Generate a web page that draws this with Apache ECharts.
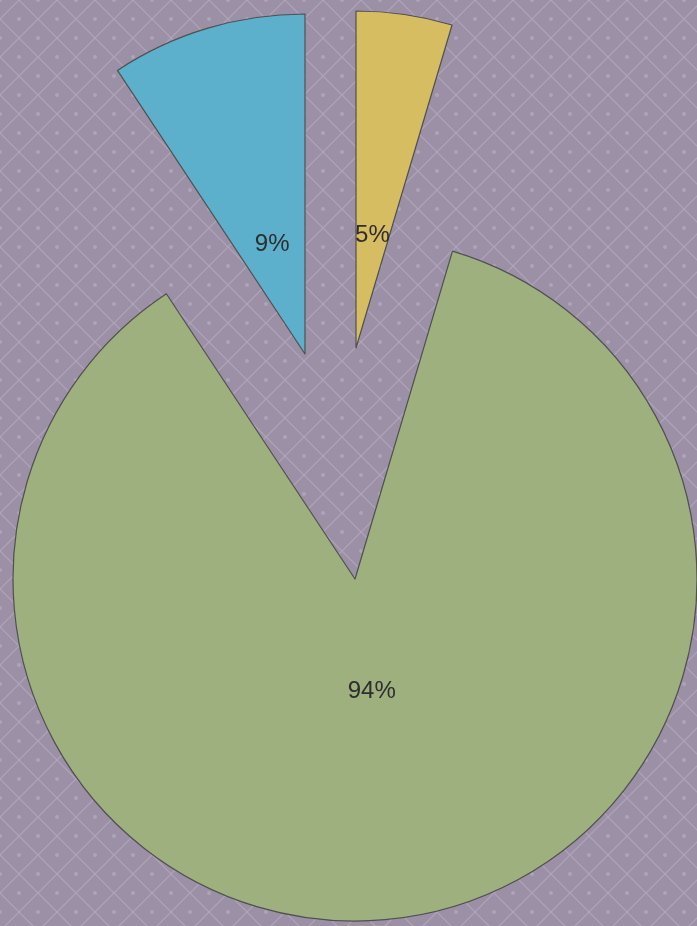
<!DOCTYPE html>
<html>
<head>
<meta charset="utf-8">
<style>
  html, body { margin: 0; padding: 0; }
  #chart { width: 697px; height: 926px; }
</style>
<script src="https://cdn.jsdelivr.net/npm/echarts@6/dist/echarts.min.js"></script>
</head>
<body>
<div id="chart"></div>
<script>
// slices clockwise from 12 o'clock
const names = ["A", "B", "C"];
const values = [4.6, 86.1, 9.3];
const labels = ["5%", "94%", "9%"];
const colors = ["#d6bd62", "#9db07e", "#5cb0cb"];
// each slice is pulled out to its own centre
const centers = [[356, 348], [355, 579], [305, 354]];
const radii = [337, 342, 340];

// crosshatch background tile
function makePattern() {
  const s = 38, h = 19;
  const c = document.createElement("canvas");
  c.width = s;
  c.height = s;
  const g = c.getContext("2d");
  g.fillStyle = "#9c90a6";
  g.fillRect(0, 0, s, s);
  g.strokeStyle = "#afa5b9";
  g.lineWidth = 1.1;
  g.beginPath();
  g.moveTo(h, 0); g.lineTo(0, h);
  g.moveTo(s, h); g.lineTo(h, s);
  g.moveTo(h, 0); g.lineTo(s, h);
  g.moveTo(0, h); g.lineTo(h, s);
  g.stroke();
  g.fillStyle = "#aea4b8";
  [[0, 0], [s, 0], [0, s], [s, s], [h, h]].forEach(p => {
    g.beginPath();
    g.arc(p[0], p[1], 2, 0, Math.PI * 2);
    g.fill();
  });
  return c;
}

const chart = echarts.init(document.getElementById("chart"));

const series = [];
values.forEach((v, k) => {
  const mkData = (showLabel, filled) =>
    values.map((val, i) => ({
      name: names[i],
      value: val,
      itemStyle: i === k && filled
        ? { color: colors[i], borderColor: "#505050", borderWidth: 1.2 }
        : { color: "transparent", borderWidth: 0 },
      label: { show: i === k && showLabel }
    }));
  // the slice itself
  series.push({
    type: "pie",
    center: centers[k],
    radius: [0, radii[k]],
    startAngle: 90,
    clockwise: true,
    silent: true,
    animation: false,
    label: { show: false },
    labelLine: { show: false },
    data: mkData(false, true)
  });
  // label placed at about a third of the radius
  series.push({
    type: "pie",
    center: centers[k],
    radius: [0, 222],
    startAngle: 90,
    clockwise: true,
    silent: true,
    animation: false,
    label: {
      position: "inside",
      formatter: p => labels[p.dataIndex],
      color: "#2e2e2e",
      fontFamily: "Liberation Sans",
      fontSize: 24
    },
    labelLine: { show: false },
    data: mkData(true, false)
  });
});

chart.setOption({
  backgroundColor: { image: makePattern(), repeat: "repeat" },
  series: series
});
</script>
</body>
</html>
